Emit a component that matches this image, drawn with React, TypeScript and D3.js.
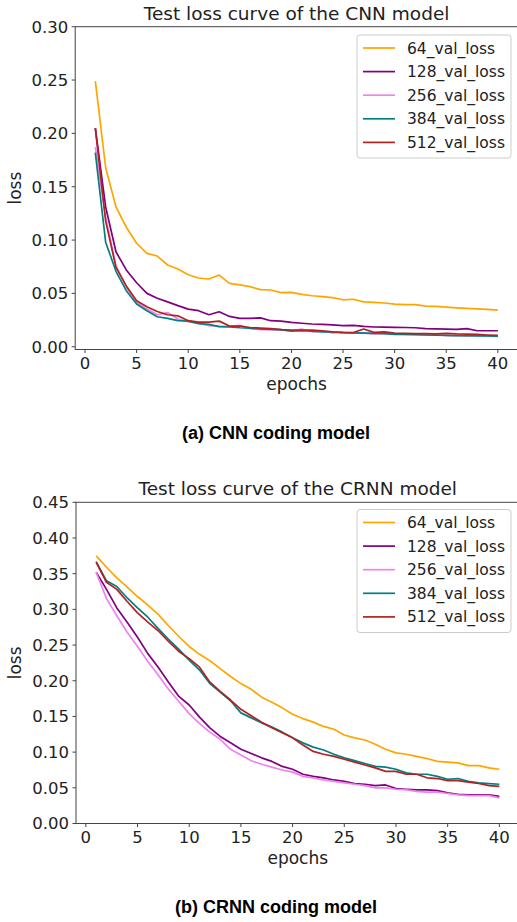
import React from "react";
import * as d3 from "d3";

const epochs = d3.range(1, 41);
const xTicks = [0, 5, 10, 15, 20, 25, 30, 35, 40];
const seriesNames = ["64_val_loss", "128_val_loss", "256_val_loss", "384_val_loss", "512_val_loss"];
const seriesColors = ["#FFA500", "#800080", "#EE82EE", "#008080", "#B22222"];

const cnnTicks = [0.0, 0.05, 0.1, 0.15, 0.2, 0.25, 0.3];
const crnnTicks = [0.0, 0.05, 0.1, 0.15, 0.2, 0.25, 0.3, 0.35, 0.4, 0.45];

const cnn64 = [0.249, 0.168, 0.131, 0.112, 0.097, 0.0875, 0.085, 0.0766, 0.0729, 0.0675, 0.0644, 0.0635, 0.0672, 0.0594, 0.0579, 0.0563, 0.0535, 0.0532, 0.0507, 0.051, 0.049, 0.0478, 0.047, 0.046, 0.044, 0.0445, 0.042, 0.0415, 0.041, 0.04, 0.0395, 0.0395, 0.038, 0.0378, 0.0372, 0.0365, 0.036, 0.0355, 0.035, 0.0344];
const cnn128 = [0.205, 0.131, 0.089, 0.072, 0.06, 0.05, 0.0455, 0.042, 0.0385, 0.0353, 0.0338, 0.03, 0.0328, 0.0284, 0.0266, 0.0266, 0.027, 0.0244, 0.024, 0.0228, 0.022, 0.0213, 0.021, 0.0205, 0.0197, 0.02, 0.019, 0.0185, 0.0183, 0.0181, 0.018, 0.0178, 0.0169, 0.0168, 0.0165, 0.0163, 0.017, 0.015, 0.015, 0.015];
const cnn256 = [0.187, 0.121, 0.076, 0.056, 0.0416, 0.0353, 0.03, 0.032, 0.026, 0.0235, 0.022, 0.0197, 0.019, 0.019, 0.02, 0.017, 0.016, 0.016, 0.0155, 0.015, 0.0166, 0.014, 0.0145, 0.013, 0.0134, 0.013, 0.013, 0.012, 0.0125, 0.012, 0.0115, 0.0115, 0.011, 0.011, 0.0105, 0.0105, 0.01, 0.0105, 0.01, 0.0097];
const cnn384 = [0.182, 0.098, 0.0707, 0.0525, 0.04, 0.0338, 0.0281, 0.0266, 0.0244, 0.024, 0.0216, 0.021, 0.0188, 0.0185, 0.0178, 0.0175, 0.0166, 0.0163, 0.016, 0.0147, 0.015, 0.0145, 0.014, 0.0138, 0.0131, 0.013, 0.0128, 0.0125, 0.0122, 0.0116, 0.0115, 0.0113, 0.011, 0.0108, 0.0106, 0.0104, 0.0103, 0.0102, 0.0101, 0.01];
const cnn512 = [0.205, 0.118, 0.0744, 0.057, 0.043, 0.0375, 0.033, 0.03, 0.029, 0.0244, 0.023, 0.023, 0.024, 0.0194, 0.0194, 0.018, 0.0175, 0.017, 0.016, 0.0157, 0.0155, 0.0157, 0.015, 0.014, 0.0135, 0.0133, 0.0166, 0.0135, 0.014, 0.0128, 0.0125, 0.0122, 0.0122, 0.012, 0.0125, 0.012, 0.0118, 0.0115, 0.011, 0.0106];

const crnn64 = [0.375, 0.359, 0.344, 0.331, 0.318, 0.306, 0.293, 0.277, 0.262, 0.248, 0.237, 0.228, 0.217, 0.206, 0.196, 0.188, 0.177, 0.17, 0.162, 0.153, 0.147, 0.142, 0.136, 0.132, 0.124, 0.12, 0.117, 0.111, 0.104, 0.099, 0.097, 0.094, 0.091, 0.087, 0.086, 0.085, 0.081, 0.081, 0.078, 0.076];
const crnn128 = [0.352, 0.328, 0.302, 0.282, 0.261, 0.238, 0.219, 0.198, 0.178, 0.166, 0.149, 0.134, 0.122, 0.113, 0.104, 0.098, 0.092, 0.087, 0.08, 0.076, 0.069, 0.066, 0.064, 0.061, 0.059, 0.056, 0.055, 0.053, 0.054, 0.049, 0.048, 0.047, 0.047, 0.046, 0.043, 0.041, 0.04, 0.04, 0.04, 0.038];
const crnn256 = [0.352, 0.315, 0.291, 0.268, 0.248, 0.227, 0.208, 0.188, 0.171, 0.154, 0.14, 0.128, 0.118, 0.104, 0.096, 0.088, 0.083, 0.079, 0.075, 0.072, 0.066, 0.064, 0.061, 0.059, 0.057, 0.055, 0.053, 0.05, 0.05, 0.048, 0.047, 0.045, 0.044, 0.044, 0.042, 0.04, 0.039, 0.039, 0.039, 0.036];
const crnn384 = [0.367, 0.34, 0.332, 0.316, 0.302, 0.289, 0.273, 0.258, 0.244, 0.229, 0.215, 0.196, 0.184, 0.172, 0.155, 0.148, 0.141, 0.135, 0.128, 0.12, 0.113, 0.107, 0.103, 0.097, 0.092, 0.088, 0.084, 0.08, 0.079, 0.076, 0.071, 0.069, 0.069, 0.066, 0.062, 0.063, 0.059, 0.057, 0.056, 0.055];
const crnn512 = [0.366, 0.338, 0.328, 0.311, 0.295, 0.282, 0.27, 0.255, 0.241, 0.231, 0.219, 0.198, 0.185, 0.173, 0.16, 0.151, 0.142, 0.134, 0.127, 0.12, 0.11, 0.101, 0.097, 0.094, 0.09, 0.086, 0.082, 0.078, 0.073, 0.073, 0.069, 0.069, 0.064, 0.063, 0.06, 0.06, 0.058, 0.056, 0.053, 0.052];

const FONT = "'DejaVu Sans', sans-serif";

type ChartProps = {
  title: string;
  data: number[][];
  yTicks: number[];
  yDomain: [number, number];
  top: number;
  bottom: number;
  left: number;
  right: number;
  legendTop: number;
  caption: string;
  captionY: number;
};

function Chart(p: ChartProps) {
  const x = d3.scaleLinear().domain([-0.95, 41.95]).range([p.left, p.right]);
  const y = d3.scaleLinear().domain(p.yDomain).range([p.bottom, p.top]);
  const line = d3
    .line<number>()
    .x((_, i) => x(epochs[i]))
    .y((d) => y(d));
  const cx = (p.left + p.right) / 2;
  const lgX = 357;
  const lgW = 154;
  const lgH = 123;
  const rowH = 23.6;
  return (
    <g fontFamily={FONT} fill="#222">
      <text x={cx} y={p.top - 7} textAnchor="middle" fontSize={18.5}>
        {p.title}
      </text>
      <clipPath id={"clip" + p.top}>
        <rect x={p.left} y={p.top} width={p.right - p.left} height={p.bottom - p.top} />
      </clipPath>
      <g clipPath={`url(#clip${p.top})`}>
        {p.data.map((s, i) => (
          <path key={i} d={line(s) || ""} fill="none" stroke={seriesColors[i]} strokeWidth={1.7} strokeLinejoin="round" />
        ))}
      </g>
      <rect x={p.left} y={p.top} width={p.right - p.left} height={p.bottom - p.top} fill="none" stroke="#444" strokeWidth={1} />
      {p.yTicks.map((t) => (
        <g key={t}>
          <line x1={p.left - 3.5} x2={p.left} y1={y(t)} y2={y(t)} stroke="#444" />
          <text x={p.left - 7} y={y(t)} dy="0.36em" textAnchor="end" fontSize={16.5}>
            {t.toFixed(2)}
          </text>
        </g>
      ))}
      {xTicks.map((t) => (
        <g key={t}>
          <line x1={x(t)} x2={x(t)} y1={p.bottom} y2={p.bottom + 3.5} stroke="#444" />
          <text x={x(t)} y={p.bottom + 19} textAnchor="middle" fontSize={16.5}>
            {t}
          </text>
        </g>
      ))}
      <text x={cx} y={p.bottom + 40} textAnchor="middle" fontSize={17}>
        epochs
      </text>
      <text
        transform={`translate(21,${(p.top + p.bottom) / 2}) rotate(-90)`}
        textAnchor="middle"
        fontSize={17}
      >
        loss
      </text>
      <rect x={lgX} y={p.legendTop} width={lgW} height={lgH} rx={3} fill="white" fillOpacity={0.8} stroke="#ccc" />
      {seriesNames.map((n, i) => {
        const yy = p.legendTop + 13 + i * rowH;
        return (
          <g key={n}>
            <line x1={lgX + 6} x2={lgX + 38} y1={yy} y2={yy} stroke={seriesColors[i]} strokeWidth={1.7} />
            <text x={lgX + 50} y={yy} dy="0.36em" fontSize={15.5}>
              {n}
            </text>
          </g>
        );
      })}
      <text
        x={276}
        y={p.captionY}
        textAnchor="middle"
        fontFamily="'Liberation Sans', Arial, sans-serif"
        fontWeight="bold"
        fontSize={18}
        fill="#000"
      >
        {p.caption}
      </text>
    </g>
  );
}

export default function App() {
  return (
    <svg width={517} height={922} style={{ position: "absolute", left: 0, top: 0, background: "white" }}>
      <Chart
        title="Test loss curve of the CNN model"
        data={[cnn64, cnn128, cnn256, cnn384, cnn512]}
        yTicks={cnnTicks}
        yDomain={[-0.0026, 0.3]}
        top={26.7}
        bottom={349.5}
        left={75.2}
        right={518}
        legendTop={35}
        caption="(a) CNN coding model"
        captionY={439}
      />
      <Chart
        title="Test loss curve of the CRNN model"
        data={[crnn64, crnn128, crnn256, crnn384, crnn512]}
        yTicks={crnnTicks}
        yDomain={[0, 0.45]}
        top={502.3}
        bottom={823.5}
        left={76}
        right={519.5}
        legendTop={509.5}
        caption="(b) CRNN coding model"
        captionY={913}
      />
    </svg>
  );
}
